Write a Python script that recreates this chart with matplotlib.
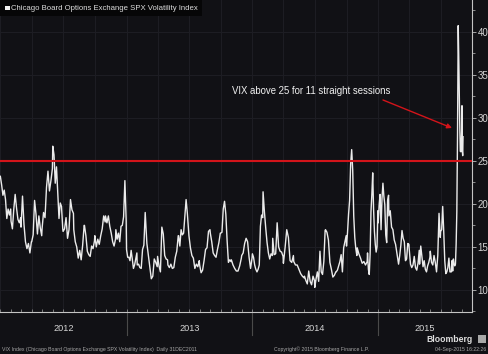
import numpy as np
import pandas as pd
import matplotlib
matplotlib.use("Agg")
import matplotlib.pyplot as plt
import matplotlib.dates as mdates
from matplotlib.patches import Rectangle
from matplotlib.transforms import blended_transform_factory

plt.rcParams['font.family'] = ['Liberation Sans', 'DejaVu Sans']

# VIX readings, one sub-list per month
vix_2012 = [
    [23.2, 22.2, 21.0, 21.6, 20.5, 18.3, 19.4, 18.7, 19.4],
    [18.0, 17.1, 19.4, 21.1, 19.5, 18.2, 17.8, 18.4],
    [17.3, 20.9, 17.6, 15.6, 14.8, 15.4, 14.3, 15.6],
    [15.6, 16.4, 20.4, 18.8, 16.5, 18.6, 17.2, 16.3],
    [17.1, 19.0, 18.4, 21.9, 23.8, 21.5, 22.7, 24.1],
    [26.7, 25.7, 22.4, 24.3, 21.2, 18.3, 20.1, 19.7, 17.1],
    [16.8, 17.1, 18.4, 16.0, 17.0, 20.5, 19.3, 18.9],
    [17.0, 15.6, 15.0, 13.7, 14.6, 13.5, 15.2, 17.5],
    [17.5, 16.3, 14.5, 14.1, 13.9, 15.1, 14.8, 15.7],
    [16.3, 15.0, 15.9, 15.3, 16.3, 17.1, 18.6, 17.9],
    [18.6, 17.8, 18.6, 17.4, 16.6, 15.6, 15.1, 15.9],
    [17.0, 15.9, 16.6, 15.6, 17.4, 17.5, 18.5, 22.7, 18.0],
]
vix_2013 = [
    [14.7, 13.8, 13.8, 13.4, 14.6, 13.6, 12.5, 12.9, 13.6, 14.3],
    [12.9, 13.0, 12.6, 12.5, 14.7, 15.2, 19.0, 16.3],
    [15.4, 14.0, 12.6, 11.3, 11.6, 13.6, 13.2, 12.7],
    [13.9, 12.8, 12.1, 17.3, 16.5, 14.0, 13.6, 13.5],
    [12.9, 12.6, 13.0, 12.5, 12.6, 13.8, 14.5, 16.3],
    [16.3, 15.1, 17.0, 16.4, 16.6, 18.6, 20.5, 18.9, 16.9],
    [16.3, 14.9, 14.0, 13.7, 12.5, 13.0, 12.7, 13.4],
    [12.9, 12.0, 12.3, 13.4, 14.7, 14.9, 16.8, 17.0],
    [16.6, 15.6, 14.3, 14.0, 13.8, 14.7, 15.5, 16.6],
    [16.6, 16.7, 19.4, 20.3, 18.8, 15.7, 13.2, 13.5, 13.3],
    [13.5, 12.9, 12.5, 12.2, 12.2, 12.8, 13.7],
    [14.0, 14.3, 15.4, 16.0, 15.6, 13.8, 12.5, 13.7],
]
vix_2014 = [
    [14.2, 13.8, 12.9, 12.4, 12.1, 12.4, 12.9, 17.4, 18.7, 18.4],
    [21.4, 19.1, 17.2, 15.5, 14.3, 13.6, 14.2, 14.0],
    [16.0, 14.1, 14.2, 17.8, 15.0, 14.5, 14.4, 13.9],
    [13.1, 14.9, 17.0, 16.1, 13.4, 13.2, 14.0],
    [13.3, 12.9, 12.9, 12.4, 11.9, 11.6, 11.4],
    [11.6, 11.1, 10.7, 12.2, 11.0, 10.6, 11.6, 11.1],
    [10.3, 11.3, 12.1, 11.0, 14.5, 12.1, 11.8, 13.3, 16.9],
    [17.0, 16.7, 15.8, 13.2, 12.4, 11.5, 11.7, 12.1],
    [12.1, 12.3, 12.8, 13.3, 14.1, 12.1, 14.9, 15.6, 16.3],
    [15.1, 16.7, 18.8, 20.4, 24.6, 26.3, 23.9, 18.6, 16.1, 14.8, 14.0],
    [14.9, 14.2, 13.7, 13.1, 13.3, 12.9, 13.3],
    [14.3, 12.4, 11.8, 14.2, 19.1, 21.1, 23.6, 19.4, 16.8, 15.3, 14.4, 15.0, 19.2],
]
vix_2015 = [
    [17.8, 19.9, 21.1, 17.0, 20.6, 22.4, 20.9, 19.9, 16.4, 15.5, 20.4, 21.0],
    [18.6, 19.2, 17.3, 17.0, 15.8, 15.3, 14.3, 13.3],
    [13.0, 14.0, 15.2, 16.9, 16.0, 15.6, 13.4, 13.6, 15.4, 15.3],
    [14.7, 13.0, 12.6, 12.9, 13.9, 12.6, 12.3, 13.1, 14.6],
    [13.0, 15.1, 13.9, 12.7, 13.4, 12.4, 12.1, 12.8, 13.2, 13.8],
    [14.5, 13.2, 12.9, 14.0, 13.2, 12.1, 14.0, 18.9, 16.1],
    [16.8, 17.0, 19.7, 16.8, 13.4, 11.9, 12.1, 12.6, 13.7, 12.1, 12.1],
    [12.1, 13.4, 12.2, 13.6, 13.0, 12.8, 13.0, 15.3, 19.1, 28.0, 40.7, 36.0, 30.3, 26.1, 26.05, 28.4],
    [31.4, 26.1, 25.6, 27.8],
]
years = [2012, 2013, 2014, 2015]
last_day = pd.Timestamp('2015-09-04')
threshold = 25
y_ticks = [10, 15, 20, 25, 30, 35, 40]

bg = '#111115'
dates, values = [], []
for year, months in zip(years, [vix_2012, vix_2013, vix_2014, vix_2015]):
    for m, vals in enumerate(months, start=1):
        start = pd.Timestamp(year, m, 1)
        end = min(start + pd.offsets.MonthEnd(0), last_day)
        dates.extend(pd.date_range(start, end, periods=len(vals)))
        values.extend(vals)

fig = plt.figure(figsize=(4.88, 3.54), dpi=100, facecolor=bg)
ax = fig.add_axes([0, 1 - 312 / 354, 472 / 488, 312 / 354], facecolor=bg)

ax.plot(dates, values, color='#ebebeb', lw=1.0, zorder=3)
ax.axhline(threshold, color='#d3141a', lw=1.5, zorder=4)

x0, x1 = pd.Timestamp('2011-12-31'), pd.Timestamp('2015-09-30')
ax.set_xlim(x0, x1)
ax.set_ylim(7.44, 43.68)

# x axis: quarterly grid, monthly ticks, year separators
ax.xaxis.set_major_locator(mdates.MonthLocator(bymonth=[1, 4, 7, 10]))
ax.xaxis.set_minor_locator(mdates.MonthLocator())
ax.xaxis.set_major_formatter(plt.NullFormatter())
ax.tick_params(axis='x', which='both', direction='in', length=2, color='#8a8a8a', width=0.6)
ax.grid(axis='x', which='major', color='#1e1e24', lw=0.7)

ax.yaxis.tick_right()
ax.set_yticks(y_ticks)
ax.yaxis.set_minor_locator(plt.MultipleLocator(2.5))
ax.tick_params(axis='y', which='major', direction='out', length=3, width=0.6,
               color='#bdbdbd', labelcolor='#d4d4d4', labelsize=7, pad=1)
ax.tick_params(axis='y', which='minor', direction='out', length=2, width=0.5, color='#bdbdbd')
ax.grid(axis='y', which='major', color='#1e1e24', lw=0.7)

for s in ['left', 'top']:
    ax.spines[s].set_visible(False)
for s in ['right', 'bottom']:
    ax.spines[s].set_color('#c4c4c4')
    ax.spines[s].set_linewidth(0.8)

trans = blended_transform_factory(ax.transData, ax.transAxes)
for year in years[1:]:
    ax.plot([pd.Timestamp(year, 1, 1)] * 2, [0, -0.075], transform=trans,
            color='#4a4a4a', lw=0.8, clip_on=False)
for year in years:
    a = max(pd.Timestamp(year, 1, 1), x0)
    b = min(pd.Timestamp(year, 12, 31), x1)
    ax.text(a + (b - a) / 2, -0.052, str(year), transform=trans, ha='center', va='center',
            color='#d4d4d4', fontsize=6.6)

# title box
fig.patches.append(Rectangle((0, 1 - 16 / 354), 202 / 488, 16 / 354, transform=fig.transFigure,
                             facecolor='#060607', edgecolor='none'))
fig.patches.append(Rectangle((5 / 488, 1 - 10 / 354), 4.5 / 488, 4.5 / 354, transform=fig.transFigure,
                             facecolor='#f2f2f2', edgecolor='none'))
fig.text(11 / 488, 1 - 8 / 354, 'Chicago Board Options Exchange SPX Volatility Index',
         color='#dcdcdc', fontsize=5.6, va='center', ha='left')

# annotation
fig.text(232 / 488, 1 - 91 / 354, 'VIX above 25 for 11 straight sessions',
         color='#f0f0f0', fontsize=6.9, va='center', ha='left')
ax.annotate('', xy=(452 / 488, 1 - 128 / 354), xytext=(383 / 488, 1 - 100 / 354),
            xycoords='figure fraction', textcoords='figure fraction',
            arrowprops=dict(arrowstyle='-|>', color='#d3141a', lw=1.0,
                            mutation_scale=7, shrinkA=0, shrinkB=0))

# footer
fig.text(473 / 488, 1 - 339 / 354, 'Bloomberg', color='#e0e0e0', fontsize=6.2,
         fontweight='bold', ha='right', va='center')
fig.patches.append(Rectangle((478 / 488, 1 - 343 / 354), 8 / 488, 8 / 354, transform=fig.transFigure,
                             facecolor='#a8a8a8', edgecolor='none'))
foot_y = 1 - 349.5 / 354
fig.text(2 / 488, foot_y, 'VIX Index (Chicago Board Options Exchange SPX Volatility Index)  Daily 31DEC2011',
         color='#a8a8a8', fontsize=3.7, ha='left', va='center')
fig.text(322 / 488, foot_y, 'Copyright\u00a9 2015 Bloomberg Finance L.P.',
         color='#a8a8a8', fontsize=3.7, ha='center', va='center')
fig.text(486 / 488, foot_y, '04-Sep-2015 16:22:26',
         color='#a8a8a8', fontsize=3.7, ha='right', va='center')

fig.savefig('out.png', dpi=100, facecolor=bg)
